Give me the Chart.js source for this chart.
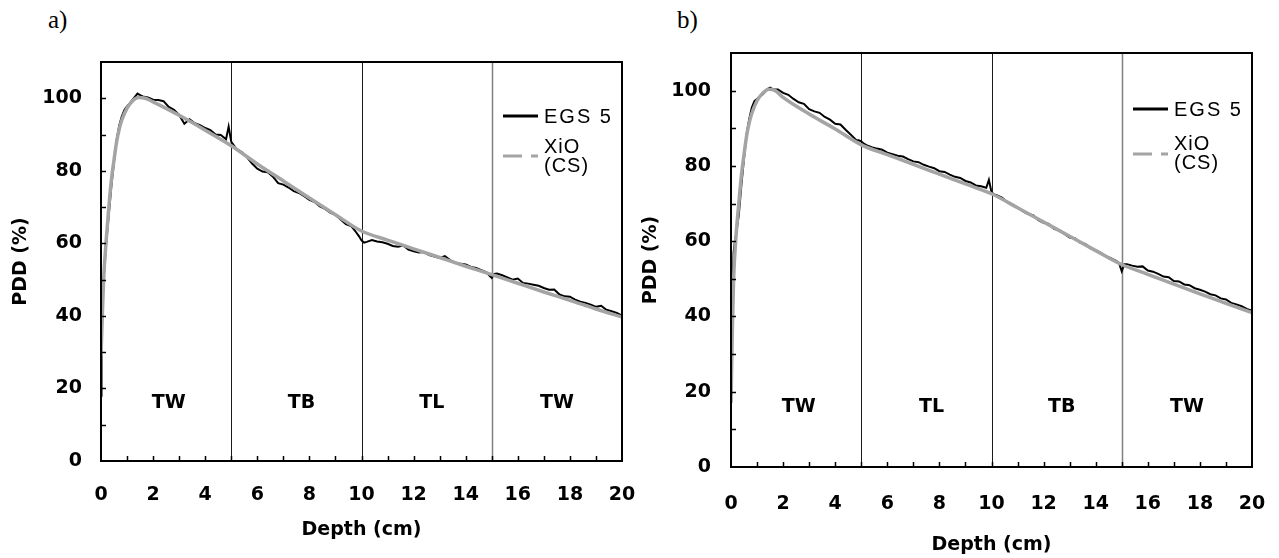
<!DOCTYPE html>
<html>
<head>
<meta charset="utf-8">
<script src="https://cdn.jsdelivr.net/npm/chart.js@4.4.1/dist/chart.umd.min.js"></script>
<style>
    body { margin: 0; background: #fff; width: 1279px; height: 558px; position: relative; overflow: hidden; }
    .panel { position: absolute; top: 0; }
    .tag { position: absolute; top: 6px; font-family: "Liberation Serif", serif; font-size: 25px; color: #000; }
</style>
</head>
<body>
<div class="tag" style="left:48px">a)</div>
<div class="tag" style="left:677px">b)</div>
<canvas id="chartA" class="panel" width="640" height="558" style="left:0"></canvas>
<canvas id="chartB" class="panel" width="639" height="558" style="left:640px"></canvas>
<script>
"use strict";

// depth grid of the Monte Carlo curves (cm)
var depthEGS = [0, 0.02, 0.05, 0.1, 0.15, 0.2, 0.3, 0.4, 0.5, 0.6, 0.7, 0.8, 0.9, 1.0, 1.1, 1.2, 1.3, 1.4, 1.5, 1.6, 1.8,
    2.0, 2.2, 2.4, 2.6, 2.8, 3.0, 3.2, 3.4, 3.6, 3.8, 4.0, 4.2, 4.4, 4.6, 4.8,
    4.9, 5.0, 5.1,
    5.2, 5.4, 5.6, 5.8, 6.0, 6.2, 6.4, 6.6, 6.8, 7.0, 7.2, 7.4, 7.6, 7.8, 8.0, 8.2, 8.4, 8.6, 8.8, 9.0, 9.2, 9.4, 9.6, 9.8,
    9.9, 10.0, 10.1,
    10.2, 10.4, 10.6, 10.8, 11.0, 11.2, 11.4, 11.6, 11.8, 12.0, 12.2, 12.4, 12.6, 12.8, 13.0, 13.2, 13.4, 13.6, 13.8, 14.0, 14.2, 14.4, 14.6, 14.8,
    14.9, 15.0, 15.1,
    15.2, 15.4, 15.6, 15.8, 16.0, 16.2, 16.4, 16.6, 16.8, 17.0, 17.2, 17.4, 17.6, 17.8, 18.0, 18.2, 18.4, 18.6, 18.8, 19.0, 19.2, 19.4, 19.6, 19.8, 20.0];

// EGS 5, panel a (TW / TB / TL / TW)
var egsA = [18, 30, 42, 50, 55, 60, 68, 76, 82.5, 88.5, 92.5, 95, 96.8, 97.8, 98.6, 99.5, 100.4, 101.3, 100.9, 100.5, 100.2,
    99.6, 99.5, 99.2, 97.6, 96.8, 95.4, 93.0, 94.2, 93.1, 92.6, 91.8, 91.2, 90.0, 89.9, 88.7,
    92.2, 88.0, 87.0,
    86.0, 85.2, 83.8, 82.0, 80.6, 79.8, 79.6, 78.4, 76.6, 76.2, 75.4, 74.4, 73.9, 73.0, 72.0, 71.4, 70.2, 69.5, 68.5, 67.9, 66.6, 65.3, 64.8, 63.0,
    62.0, 60.8, 60.2,
    60.4, 60.9, 60.5, 60.3, 59.9, 59.3, 59.1, 59.4, 58.3, 57.8, 57.5, 57.6, 56.8, 56.4, 56.0, 56.5, 55.4, 54.6, 54.4, 54.2, 53.5, 53.2, 52.6, 52.0,
    51.2, 50.5, 51.6,
    51.7, 51.2, 50.6, 50.0, 50.3, 49.1, 48.9, 48.6, 48.3, 47.7, 47.2, 47.3, 45.9, 45.4, 45.3, 44.5, 43.9, 43.6, 43.1, 42.5, 42.8, 41.7, 41.3, 40.8, 40.1];

// EGS 5, panel b (TW / TL / TB / TW)
var egsB = [22, 35, 47, 57, 60, 62, 67, 75, 82, 88.5, 92.5, 95.5, 97.2, 97.8, 98.4, 98.9, 99.6, 100.4, 100.8, 100.4, 100.3,
    99.4, 98.9, 97.8, 96.9, 96.5, 95.1, 94.5, 94.1, 93.0, 92.3, 91.2, 91.0, 89.6, 88.3, 86.9,
    86.8, 86.5, 85.9,
    85.5, 85.0, 84.6, 84.3, 83.5, 83.1, 82.7, 82.5, 81.8, 81.2, 81.0, 80.3, 79.8, 79.4, 78.6, 78.4, 77.7, 77.1, 76.8, 76.0, 75.6, 74.8, 74.6, 74.2,
    76.3, 73.0, 72.4,
    72.2, 71.6, 70.4, 69.6, 69.0, 68.0, 67.2, 66.9, 65.6, 64.9, 64.6, 63.3, 62.9, 61.9, 61.0, 60.8, 59.6, 59.3, 58.1, 57.6, 56.9, 56.0, 55.4, 54.7,
    54.1, 52.0, 53.9,
    53.9, 53.5, 53.2, 53.3, 52.2, 51.9, 51.3, 50.6, 50.4, 49.4, 49.3, 48.5, 48.3, 47.5, 47.1, 46.6, 45.9, 45.6, 44.8, 44.5, 43.6, 43.2, 42.7, 42.0, 41.5];

// XiO (CS) treatment planning curves
var depthXiO = [0, 0.05, 0.1, 0.2, 0.3, 0.4, 0.5, 0.6, 0.7, 0.8, 1.0, 1.2, 1.45, 1.7, 2, 3, 4, 5, 6, 7, 8, 9, 10, 11, 12, 13, 14, 15, 16, 17, 18, 19, 20];
var xioA = [29, 40, 50, 61, 70, 77.5, 83, 88, 91.5, 94, 97.3, 99.2, 100.2, 100, 99.0, 95.3, 91.2, 86.9, 81.9, 77.2, 72.5, 67.9, 63.4, 60.9, 58.5, 56.1, 53.7, 51.4, 49.0, 46.6, 44.3, 41.9, 39.7];
var xioB = [17, 36, 50, 62, 70, 77.5, 83, 88, 91.5, 94, 97.3, 99.2, 100.4, 100.0, 98.2, 93.8, 89.8, 85.6, 83.0, 80.4, 77.8, 75.2, 72.6, 68.9, 65.1, 61.3, 57.5, 53.8, 51.2, 48.6, 46.0, 43.5, 41.0];

// slab layout
var interfaces = [5, 10, 15];
var regionCenters = [2.6, 7.7, 12.7, 17.5];
var regionLevel = 16;
var regionsA = ["TW", "TB", "TL", "TW"];
var regionsB = ["TW", "TL", "TB", "TW"];

function toPoints(xs, ys) {
    return xs.map(function (x, i) { return {x: x, y: ys[i]}; });
}

var tickFont = {family: "'DejaVu Sans', sans-serif", size: 19, weight: "bold"};
var titleFont = {family: "'DejaVu Sans', sans-serif", size: 19, weight: "bold", lineHeight: 1};

// frame, minor ticks, slab boundaries, slab names and legend
var panelDeco = {
    id: "panelDeco",
    beforeDatasetsDraw: function (chart) {
        var ctx = chart.ctx, area = chart.chartArea, xs = chart.scales.x;
        ctx.save();
        interfaces.forEach(function (d, i) {
            var px = Math.round(xs.getPixelForValue(d)) + 0.5;
            ctx.strokeStyle = i === 2 ? "#808080" : "#1a1a1a";
            ctx.lineWidth = i === 2 ? 1.5 : 1;
            ctx.beginPath();
            ctx.moveTo(px, area.top);
            ctx.lineTo(px, area.bottom);
            ctx.stroke();
        });
        ctx.restore();
    },
    afterDraw: function (chart, args, opts) {
        var ctx = chart.ctx, area = chart.chartArea, xs = chart.scales.x, ys = chart.scales.y, v, p;
        ctx.save();
        ctx.strokeStyle = "#000";
        ctx.lineWidth = 1.5;
        ctx.beginPath();
        for (v = xs.min + 1; v < xs.max; v += 1) {
            p = Math.round(xs.getPixelForValue(v)) + 0.5;
            ctx.moveTo(p, area.bottom);
            ctx.lineTo(p, area.bottom - 5);
        }
        for (v = ys.min + 10; v < ys.max; v += 10) {
            p = Math.round(ys.getPixelForValue(v)) + 0.5;
            ctx.moveTo(area.left, p);
            ctx.lineTo(area.left + 5, p);
        }
        ctx.stroke();

        ctx.lineWidth = 2;
        ctx.strokeRect(area.left, area.top, area.right - area.left, area.bottom - area.top);

        // slab names
        ctx.fillStyle = "#000";
        ctx.font = "bold 19px 'DejaVu Sans', sans-serif";
        ctx.textAlign = "center";
        ctx.textBaseline = "middle";
        opts.regions.forEach(function (name, i) {
            ctx.fillText(name, xs.getPixelForValue(regionCenters[i]), ys.getPixelForValue(regionLevel));
        });

        // legend
        var egs = chart.data.datasets[1], xio = chart.data.datasets[0];
        var lx = area.right - 119, ly = area.top + opts.legendTop;
        ctx.textAlign = "left";
        ctx.font = "20px 'Liberation Sans', Arial, sans-serif";
        ctx.letterSpacing = "2px";
        ctx.strokeStyle = egs.borderColor;
        ctx.lineWidth = 3;
        ctx.beginPath();
        ctx.moveTo(lx, ly);
        ctx.lineTo(lx + 35, ly);
        ctx.stroke();
        ctx.fillText(egs.label, lx + 41, ly + 1);

        ctx.strokeStyle = xio.borderColor;
        ctx.setLineDash([19, 9]);
        ctx.beginPath();
        ctx.moveTo(lx, ly + opts.xioLine);
        ctx.lineTo(lx + 35, ly + opts.xioLine);
        ctx.stroke();
        ctx.setLineDash([]);
        ctx.letterSpacing = "1px";
        ctx.fillText("XiO", lx + 41, ly + opts.xioText);
        ctx.fillText("(CS)", lx + 41, ly + opts.xioText + 19);
        ctx.restore();
    }
};

function makeChart(id, egsData, xioData, cfg) {
    return new Chart(document.getElementById(id).getContext("2d"), {
        type: "line",
        data: {
            datasets: [
                {
                    label: "XiO (CS)",
                    data: toPoints(depthXiO, xioData),
                    borderColor: "#a4a4a4",
                    borderWidth: 3.5,
                    pointRadius: 0,
                    cubicInterpolationMode: "monotone",
                    fill: false
                },
                {
                    label: "EGS 5",
                    data: toPoints(depthEGS, egsData),
                    borderColor: "#000000",
                    borderWidth: 2,
                    pointRadius: 0,
                    fill: false
                }
            ]
        },
        options: {
            responsive: false,
            animation: false,
            layout: {padding: {left: 0, right: cfg.padRight, top: cfg.padTop, bottom: 0}},
            plugins: {
                legend: {display: false},
                tooltip: {enabled: false},
                panelDeco: {regions: cfg.regions, legendTop: cfg.legendTop, xioLine: cfg.xioLine, xioText: cfg.xioText}
            },
            scales: {
                x: {
                    type: "linear",
                    min: 0,
                    max: 20,
                    grid: {display: false, drawTicks: false},
                    border: {display: false},
                    ticks: {stepSize: 2, padding: cfg.xTickPad, color: "#000", font: tickFont, maxRotation: 0},
                    title: {display: true, text: "Depth (cm)", color: "#000", font: titleFont, padding: {top: 0, bottom: cfg.xTitlePad}},
                    afterFit: function (s) {
                        s.height = cfg.xHeight;
                        s.paddingLeft = 0;
                        s.paddingRight = 0;
                    }
                },
                y: {
                    min: 0,
                    max: 110,
                    grid: {display: false, drawTicks: false},
                    border: {display: false},
                    ticks: {stepSize: 20, includeBounds: false, padding: cfg.yTickPad, color: "#000", font: tickFont},
                    title: {display: true, text: "PDD (%)", color: "#000", font: titleFont, padding: {top: cfg.yTitlePad, bottom: 0}},
                    afterFit: function (s) { s.width = cfg.yWidth; }
                }
            }
        },
        plugins: [panelDeco]
    });
}

window.chartA = makeChart("chartA", egsA, xioA, {
    regions: regionsA, padRight: 18, padTop: 62, xHeight: 97, yWidth: 101,
    xTickPad: 23, yTickPad: 19, xTitlePad: 18, yTitlePad: 12,
    legendTop: 54, xioLine: 40, xioText: 31
});

window.chartB = makeChart("chartB", egsB, xioB, {
    regions: regionsB, padRight: 27, padTop: 53, xHeight: 91, yWidth: 91,
    xTickPad: 26, yTickPad: 20, xTitlePad: 3, yTitlePad: 2,
    legendTop: 56, xioLine: 45, xioText: 35
});
</script>
</body>
</html>
